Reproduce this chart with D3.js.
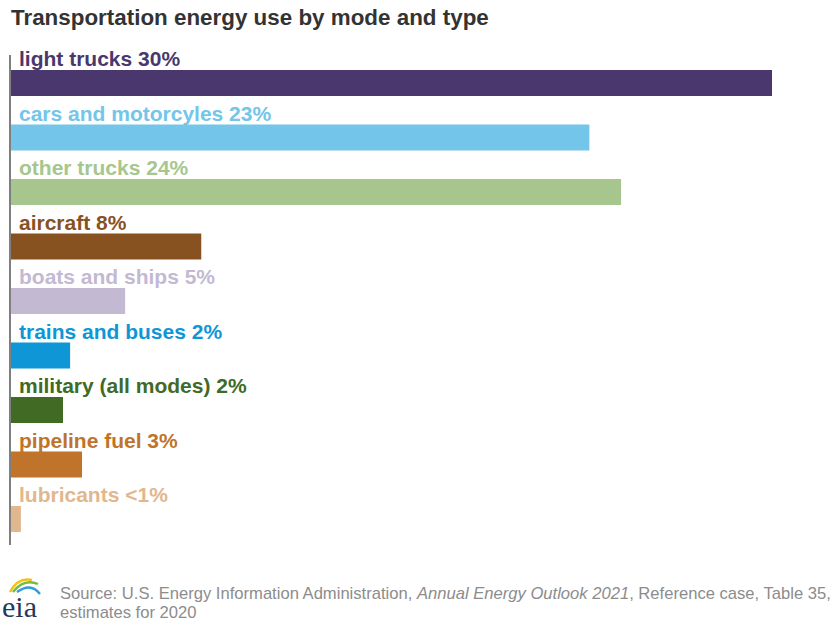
<!DOCTYPE html>
<html>
<head>
<meta charset="utf-8">
<script src="https://cdn.jsdelivr.net/npm/d3@7"></script>
<style>
  html, body { margin: 0; padding: 0; background: #fff; }
  svg { display: block; font-family: "Liberation Sans", Arial, sans-serif; }
</style>
</head>
<body>
<svg id="chart" width="836" height="623"></svg>
<script>
// Share of U.S. transportation energy use, 2020 estimates (percent)
const categories = [
  "light trucks",
  "cars and motorcyles",
  "other trucks",
  "aircraft",
  "boats and ships",
  "trains and buses",
  "military (all modes)",
  "pipeline fuel",
  "lubricants"
];
const shares = [30.0, 22.8, 24.05, 7.5, 4.5, 2.33, 2.05, 2.8, 0.39];
const colors = [
  "#4a376d", "#73c5e9", "#a7c68d", "#87521f", "#c3b9d2",
  "#0f96d6", "#416a24", "#c0742b", "#e1b78f"
];

const rows = categories.map((c, i) => ({ name: c, value: shares[i], color: colors[i] }));
const pctLabel = v => (v < 1 ? "<1%" : Math.round(v) + "%");

const svg = d3.select("#chart");

// Title
svg.append("text")
  .attr("x", 11).attr("y", 25)
  .attr("font-size", 22.4).attr("font-weight", "bold")
  .attr("fill", "#333333")
  .text("Transportation energy use by mode and type");

const x = d3.scaleLinear().domain([0, 30]).range([11, 772]);
const y = d3.scaleBand().domain(categories).range([70, 70 + 54.5 * categories.length]).paddingInner(0);
const barH = 26;

// Bars
svg.append("g").selectAll("rect")
  .data(rows).join("rect")
  .attr("x", x(0))
  .attr("y", d => y(d.name))
  .attr("width", d => x(d.value) - x(0))
  .attr("height", barH)
  .attr("fill", d => d.color);

// Labels above each bar
svg.append("g").selectAll("text")
  .data(rows).join("text")
  .attr("x", 19)
  .attr("y", d => y(d.name) - 4)
  .attr("font-size", 21).attr("font-weight", "bold")
  .attr("fill", d => d.color)
  .text(d => `${d.name} ${pctLabel(d.value)}`);

// Vertical baseline
svg.append("line")
  .attr("x1", 10).attr("x2", 10)
  .attr("y1", 55).attr("y2", 545)
  .attr("stroke", "#555").attr("stroke-width", 1.5);

// Source note
const src = svg.append("text")
  .attr("x", 60).attr("y", 599)
  .attr("font-size", 16.6).attr("fill", "#8c8c8c");
src.append("tspan").text("Source: U.S. Energy Information Administration, ");
src.append("tspan").attr("font-style", "italic").text("Annual Energy Outlook 2021");
src.append("tspan").text(", Reference case, Table 35,");
svg.append("text")
  .attr("x", 60).attr("y", 618)
  .attr("font-size", 16.6).attr("fill", "#8c8c8c")
  .text("estimates for 2020");

// eia logo
const logo = svg.append("g");
logo.append("path").attr("d", "M10,592 Q18,577 32,580").attr("fill", "none").attr("stroke", "#f2c316").attr("stroke-width", 2.4);
logo.append("path").attr("d", "M13,592 Q24,578 38,584").attr("fill", "none").attr("stroke", "#79b943").attr("stroke-width", 2.4);
logo.append("path").attr("d", "M17,592 Q31,582 40,594").attr("fill", "none").attr("stroke", "#2b9fd8").attr("stroke-width", 2.4);
logo.append("text")
  .attr("x", 2).attr("y", 617)
  .attr("font-family", "'Liberation Serif', 'DejaVu Serif', serif")
  .attr("font-size", 30).attr("fill", "#1f3a5f")
  .text("eia");
</script>
</body>
</html>
